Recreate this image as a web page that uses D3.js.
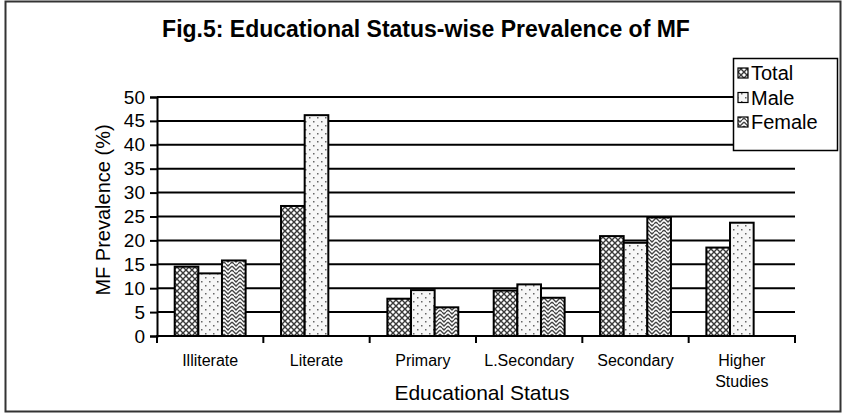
<!DOCTYPE html>
<html>
<head>
<meta charset="utf-8" />
<script src="https://cdn.jsdelivr.net/npm/d3@7"></script>
<style>
  body { margin: 0; background: #fff; }
  svg text { font-family: "Liberation Sans", Arial, sans-serif; fill: #000; }
</style>
</head>
<body>
<svg id="chart" width="843" height="414"></svg>
<script>
// data
const categories = ["Illiterate", "Literate", "Primary", "L.Secondary", "Secondary", "Higher Studies"];
const seriesNames = ["Total", "Male", "Female"];
const totalVals  = [14.5, 27.2, 7.8, 9.5, 20.9, 18.5];
const maleVals   = [13.1, 46.2, 9.6, 10.8, 19.5, 23.7];
const femaleVals = [15.8, null, 6.0, 8.0, 24.8, null];
const yTicks = [0, 5, 10, 15, 20, 25, 30, 35, 40, 45, 50];

const FONT = "'Liberation Sans', Arial, sans-serif";
const svg = d3.select("#chart");

// hatch patterns, roughly like the old excel b/w fills
const defs = svg.append("defs");
const pTotal = defs.append("pattern").attr("id", "p-total")
  .attr("patternUnits", "userSpaceOnUse").attr("width", 6).attr("height", 6);
pTotal.append("rect").attr("width", 6).attr("height", 6).attr("fill", "#fff");
pTotal.append("path").attr("d", "M0,0L6,6M6,0L0,6").attr("stroke", "#3a3a3a").attr("stroke-width", 1.4);

const pMale = defs.append("pattern").attr("id", "p-male")
  .attr("patternUnits", "userSpaceOnUse").attr("width", 8).attr("height", 8);
pMale.append("rect").attr("width", 8).attr("height", 8).attr("fill", "#f7f7f7");
pMale.append("rect").attr("x", 1).attr("y", 1).attr("width", 1.5).attr("height", 1.5).attr("fill", "#666");
pMale.append("rect").attr("x", 5).attr("y", 5).attr("width", 1.5).attr("height", 1.5).attr("fill", "#666");

const pFemale = defs.append("pattern").attr("id", "p-female")
  .attr("patternUnits", "userSpaceOnUse").attr("width", 8).attr("height", 8);
pFemale.append("rect").attr("width", 8).attr("height", 8).attr("fill", "#fff");
pFemale.append("path").attr("d", "M0,2L4,6L8,2M0,6L2,8M6,8L8,6M2,0L4,2L6,0")
  .attr("stroke", "#444").attr("stroke-width", 1.4).attr("fill", "none");

const fills = ["url(#p-total)", "url(#p-male)", "url(#p-female)"];

// outer frame
svg.append("rect").attr("x", 5.5).attr("y", 1.5).attr("width", 835).attr("height", 410)
  .attr("fill", "none").attr("stroke", "#333").attr("stroke-width", 2);

svg.append("text").attr("x", 426).attr("y", 37).attr("text-anchor", "middle")
  .attr("font-size", 23).attr("font-weight", "bold")
  .text("Fig.5: Educational Status-wise Prevalence of MF");

const x0 = d3.scaleBand().domain(categories).range([157, 795]).paddingInner(0.333).paddingOuter(0.1665);
const x1 = d3.scaleBand().domain(seriesNames).range([0, x0.bandwidth()]);
const y = d3.scaleLinear().domain([0, 50]).range([336, 97]);

// gridlines
svg.append("g").selectAll("line").data(yTicks.filter(d => d > 0)).join("line")
  .attr("x1", 157).attr("x2", 795)
  .attr("y1", d => y(d)).attr("y2", d => y(d))
  .attr("stroke", "#000").attr("stroke-width", 2);

// bars
const series = [totalVals, maleVals, femaleVals];
const g = svg.append("g");
series.forEach((vals, si) => {
  g.selectAll(".s" + si).data(categories.map((c, i) => ({ c, v: vals[i] })).filter(d => d.v != null))
    .join("rect")
    .attr("x", d => x0(d.c) + x1(seriesNames[si]))
    .attr("y", d => y(d.v))
    .attr("width", x1.bandwidth())
    .attr("height", d => y(0) - y(d.v))
    .attr("fill", fills[si])
    .attr("stroke", "#000").attr("stroke-width", 2);
});

// y axis
const yAxis = svg.append("g").attr("transform", "translate(157,0)")
  .call(d3.axisLeft(y).tickValues(yTicks).tickSize(7).tickPadding(5));
yAxis.select(".domain").attr("stroke", "#000").attr("stroke-width", 2);
yAxis.selectAll(".tick line").attr("stroke", "#000").attr("stroke-width", 2);
yAxis.selectAll(".tick text").attr("font-size", 19).attr("font-family", FONT);

// x axis - ticks between categories like excel
const xEdges = d3.range(categories.length + 1).map(i => 157 + i * (795 - 157) / categories.length);
svg.append("line").attr("x1", 156).attr("x2", 796).attr("y1", 336).attr("y2", 336)
  .attr("stroke", "#000").attr("stroke-width", 2);
svg.append("g").selectAll("line").data(xEdges).join("line")
  .attr("x1", d => d).attr("x2", d => d).attr("y1", 336).attr("y2", 343)
  .attr("stroke", "#000").attr("stroke-width", 2);

const xl = svg.append("g").selectAll("text").data(categories).join("text")
  .attr("x", d => x0(d) + x0.bandwidth() / 2)
  .attr("y", 366).attr("text-anchor", "middle").attr("font-size", 16);
xl.each(function (d) {
  const t = d3.select(this);
  if (d === "Higher Studies") {
    t.append("tspan").attr("x", x0(d) + x0.bandwidth() / 2).text("Higher");
    t.append("tspan").attr("x", x0(d) + x0.bandwidth() / 2).attr("dy", 21).text("Studies");
  } else {
    t.text(d);
  }
});

svg.append("text").attr("x", 482).attr("y", 400).attr("text-anchor", "middle")
  .attr("font-size", 21).text("Educational Status");

svg.append("text").attr("transform", "translate(110,210) rotate(-90)")
  .attr("text-anchor", "middle").attr("font-size", 20).text("MF Prevalence (%)");

// legend
const leg = svg.append("g");
leg.append("rect").attr("x", 733.5).attr("y", 58.5).attr("width", 104).attr("height", 92)
  .attr("fill", "#fff").attr("stroke", "#000").attr("stroke-width", 1.5);
seriesNames.forEach((n, i) => {
  const cy = 73 + i * 24.5;
  leg.append("rect").attr("x", 738).attr("y", cy - 5).attr("width", 10).attr("height", 10)
    .attr("fill", fills[i]).attr("stroke", "#000").attr("stroke-width", 1.2);
  leg.append("text").attr("x", 751).attr("y", cy + 7).attr("font-size", 20).text(n);
});
</script>
</body>
</html>
